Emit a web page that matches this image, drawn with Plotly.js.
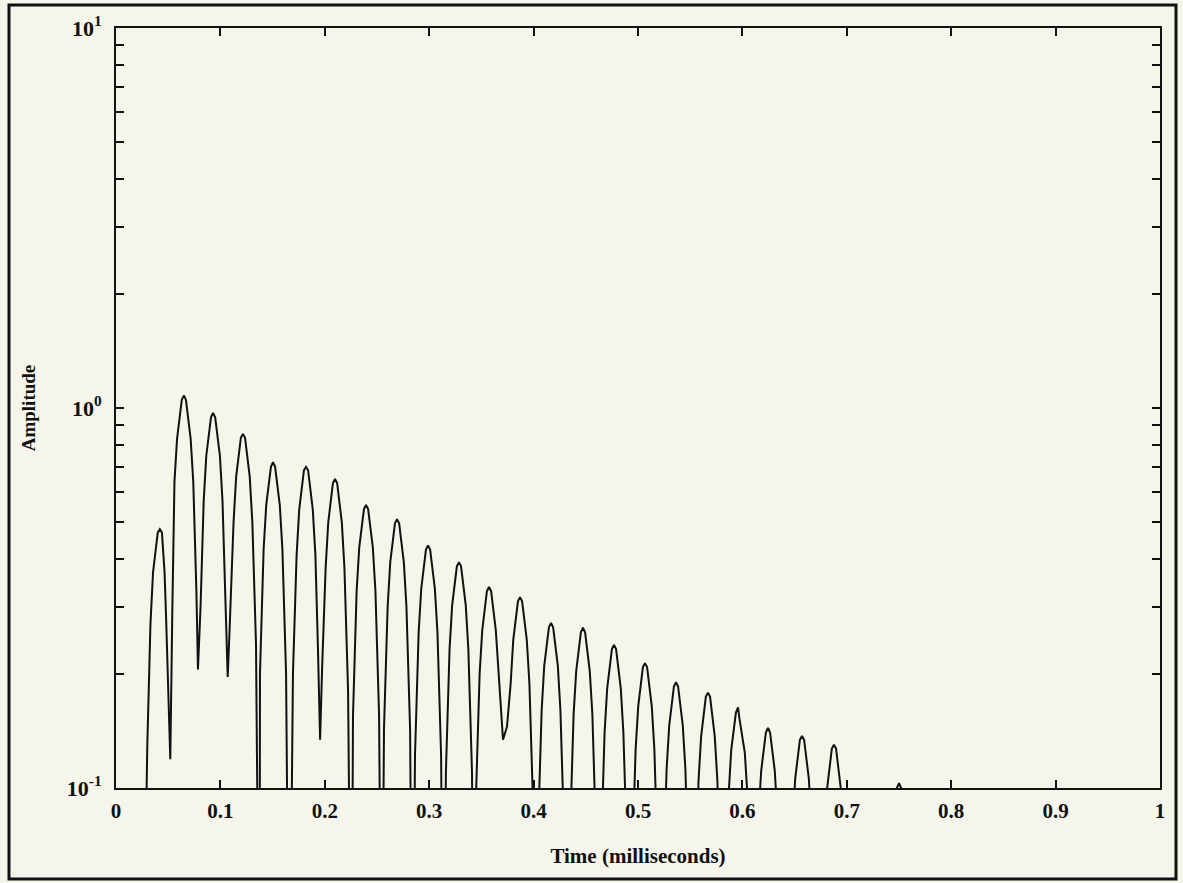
<!DOCTYPE html>
<html>
<head>
<meta charset="utf-8">
<script src="https://cdn.plot.ly/plotly-3.0.1.min.js"></script>
<style>
html,body{margin:0;padding:0;background:rgb(246,245,235);}
#chart{width:1183px;height:883px;}
</style>
</head>
<body>
<div id="chart"></div>
<script>
// Time (milliseconds) values
const timeMs = [
  0.027, 0.030, 0.033, 0.0355, 0.040, 0.042, 0.044, 0.0465, 0.048, 0.0505, 0.052,
  0.054, 0.056, 0.0585, 0.063, 0.065, 0.067, 0.0715, 0.074, 0.077, 0.0785,
  0.081, 0.084, 0.0865, 0.091, 0.093, 0.095, 0.0995, 0.102, 0.105, 0.107,
  0.109, 0.1126, 0.1151, 0.1196, 0.1216, 0.1236, 0.1281, 0.1306, 0.1341, 0.1375,
  0.1379, 0.1414, 0.1439, 0.1484, 0.1504, 0.1524, 0.1569, 0.1594, 0.1629, 0.166,
  0.1695, 0.173, 0.1755, 0.180, 0.182, 0.184, 0.1885, 0.191, 0.1935, 0.1955,
  0.1975, 0.2008, 0.2033, 0.2078, 0.2098, 0.2118, 0.2163, 0.2188, 0.2223, 0.2255,
  0.227, 0.2305, 0.233, 0.2375, 0.2395, 0.2415, 0.246, 0.2485, 0.252, 0.2545,
  0.2567, 0.2602, 0.2627, 0.2672, 0.2692, 0.2712, 0.2757, 0.2782, 0.2817, 0.284,
  0.2864, 0.2899, 0.2924, 0.2969, 0.2989, 0.3009, 0.3054, 0.3079, 0.3114, 0.3137,
  0.316, 0.3195, 0.322, 0.3265, 0.3285, 0.3305, 0.335, 0.3375, 0.341, 0.343,
  0.3448, 0.3483, 0.3508, 0.3553, 0.3573, 0.3593, 0.3638, 0.3663, 0.369, 0.3707,
  0.3745, 0.378, 0.3805, 0.385, 0.387, 0.389, 0.3935, 0.396, 0.3995, 0.402,
  0.4042, 0.4077, 0.4102, 0.4147, 0.4167, 0.4187, 0.4232, 0.4257, 0.4292, 0.432,
  0.4348, 0.4383, 0.4408, 0.4453, 0.4473, 0.4493, 0.4538, 0.4563, 0.4598, 0.462,
  0.4645, 0.468, 0.4705, 0.475, 0.477, 0.479, 0.4835, 0.486, 0.4895, 0.492,
  0.4942, 0.4977, 0.5002, 0.5047, 0.5067, 0.5087, 0.5132, 0.5157, 0.5192, 0.5215,
  0.5239, 0.5274, 0.5299, 0.5344, 0.5364, 0.5384, 0.5429, 0.5454, 0.5489, 0.5515,
  0.5545, 0.558, 0.5605, 0.565, 0.567, 0.569, 0.5735, 0.576, 0.5795, 0.5815,
  0.5833, 0.5868, 0.5893, 0.5938, 0.5958, 0.5972, 0.6023, 0.6048, 0.6083, 0.610,
  0.612, 0.6155, 0.618, 0.6225, 0.6245, 0.6265, 0.631, 0.6335, 0.637, 0.6405,
  0.6446, 0.6481, 0.6506, 0.6551, 0.6571, 0.6591, 0.6636, 0.6661, 0.6696, 0.672,
  0.6752, 0.6787, 0.6812, 0.6857, 0.6877, 0.6897, 0.6942, 0.6967, 0.7002, 0.703,
  0.745, 0.748, 0.750, 0.752, 0.755, 1.0
];
// Amplitude values
const amplitude = [
  0.04, 0.13, 0.27, 0.37, 0.47, 0.48, 0.47, 0.37, 0.28, 0.16, 0.119,
  0.30, 0.64, 0.83, 1.05, 1.08, 1.05, 0.83, 0.64, 0.33, 0.205,
  0.30, 0.57, 0.75, 0.945, 0.97, 0.945, 0.75, 0.57, 0.30, 0.196,
  0.27, 0.50, 0.66, 0.835, 0.855, 0.835, 0.66, 0.50, 0.24, 0.02,
  0.20, 0.425, 0.555, 0.70, 0.72, 0.70, 0.555, 0.425, 0.20, 0.02,
  0.20, 0.41, 0.54, 0.685, 0.70, 0.685, 0.54, 0.41, 0.23, 0.134,
  0.21, 0.38, 0.50, 0.635, 0.65, 0.635, 0.50, 0.38, 0.18, 0.02,
  0.155, 0.33, 0.43, 0.542, 0.556, 0.542, 0.43, 0.33, 0.155, 0.02,
  0.143, 0.30, 0.393, 0.497, 0.51, 0.497, 0.393, 0.30, 0.143, 0.02,
  0.122, 0.257, 0.335, 0.424, 0.435, 0.424, 0.335, 0.257, 0.122, 0.02,
  0.11, 0.232, 0.303, 0.383, 0.393, 0.383, 0.303, 0.232, 0.11, 0.02,
  0.095, 0.20, 0.26, 0.33, 0.338, 0.33, 0.26, 0.20, 0.15, 0.134,
  0.145, 0.188, 0.245, 0.31, 0.318, 0.31, 0.245, 0.188, 0.09, 0.02,
  0.076, 0.16, 0.21, 0.265, 0.272, 0.265, 0.21, 0.16, 0.076, 0.02,
  0.074, 0.156, 0.203, 0.257, 0.264, 0.257, 0.203, 0.156, 0.074, 0.02,
  0.067, 0.14, 0.183, 0.232, 0.238, 0.232, 0.183, 0.14, 0.067, 0.02,
  0.06, 0.126, 0.164, 0.208, 0.213, 0.208, 0.164, 0.126, 0.06, 0.02,
  0.053, 0.112, 0.146, 0.185, 0.19, 0.185, 0.146, 0.112, 0.053, 0.02,
  0.05, 0.105, 0.137, 0.174, 0.178, 0.174, 0.137, 0.105, 0.05, 0.02,
  0.046, 0.096, 0.126, 0.158, 0.163, 0.152, 0.124, 0.096, 0.046, 0.02,
  0.04, 0.085, 0.111, 0.14, 0.144, 0.14, 0.111, 0.085, 0.04, 0.02,
  0.038, 0.081, 0.106, 0.134, 0.137, 0.134, 0.106, 0.081, 0.038, 0.02,
  0.036, 0.077, 0.10, 0.127, 0.13, 0.127, 0.10, 0.077, 0.036, 0.02,
  0.02, 0.1, 0.103, 0.1, 0.02, 0.02
];
const xTickVals = [0, 0.1, 0.2, 0.3, 0.4, 0.5, 0.6, 0.7, 0.8, 0.9, 1];
const xTickText = ['0', '0.1', '0.2', '0.3', '0.4', '0.5', '0.6', '0.7', '0.8', '0.9', '1'];
const yTickVals = [0.1, 1, 10];
const yTickText = ['10<sup>-1</sup>', '10<sup>0</sup>', '10<sup>1</sup>'];
const yMinorVals = [0.2, 0.3, 0.4, 0.5, 0.6, 0.7, 0.8, 0.9, 2, 3, 4, 5, 6, 7, 8, 9];

const W = 1183, H = 883;
const L = 116, R = 1160, T = 28, B = 788;
const pw = R - L, ph = B - T;
function px(x){ return (x - L) / pw; }
function py(y){ return (B - y) / ph; }

const fam = '"Liberation Serif", "DejaVu Serif", serif';

Plotly.newPlot('chart', [{
  x: timeMs,
  y: amplitude,
  type: 'scatter',
  mode: 'lines',
  line: {color: '#111', width: 2},
  hoverinfo: 'skip'
}], {
  width: W, height: H,
  paper_bgcolor: 'rgb(246,245,235)',
  plot_bgcolor: 'rgb(246,245,235)',
  margin: {l: L, r: W - R, t: T, b: H - B, pad: 0},
  showlegend: false,
  font: {family: fam, color: '#111', size: 21},
  xaxis: {
    range: [0, 1],
    tickmode: 'array', tickvals: xTickVals, ticktext: xTickText,
    ticks: 'inside', ticklen: 8, tickwidth: 2, tickcolor: '#111',
    showline: true, linecolor: '#111', linewidth: 2, mirror: 'ticks',
    showgrid: false, zeroline: false,
    ticklabelstandoff: 3,
    tickfont: {family: fam, size: 21, color: '#111', weight: 'bold'},
    title: {text: '<b>Time (milliseconds)</b>', font: {family: fam, size: 21, color: '#111'}, standoff: 26},
    automargin: false
  },
  yaxis: {
    type: 'log',
    range: [-1, 1],
    tickmode: 'array', tickvals: yTickVals, ticktext: yTickText,
    ticks: 'inside', ticklen: 8, tickwidth: 2, tickcolor: '#111',
    minor: {tickmode: 'array', tickvals: yMinorVals, ticks: 'inside', ticklen: 8, tickwidth: 2, tickcolor: '#111', showgrid: false},
    showline: true, linecolor: '#111', linewidth: 2, mirror: 'ticks',
    showgrid: false, zeroline: false,
    ticklabelstandoff: 8,
    tickfont: {family: fam, size: 22, color: '#111', weight: 'bold'},
    title: {text: '<b>Amplitude</b>', font: {family: fam, size: 19, color: '#111'}, standoff: 26},
    automargin: false
  },
  shapes: [{
    type: 'rect', xref: 'paper', yref: 'paper',
    x0: px(9), x1: px(1176), y0: py(5), y1: py(879),
    line: {color: '#111', width: 3}, fillcolor: 'rgba(0,0,0,0)', layer: 'above'
  }]
}, {staticPlot: true});
</script>
</body>
</html>
